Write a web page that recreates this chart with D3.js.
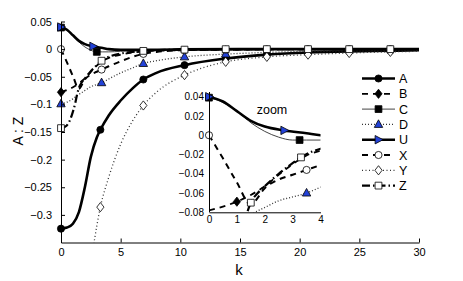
<!DOCTYPE html>
<html>
<head>
<meta charset="utf-8">
<script src="https://cdn.jsdelivr.net/npm/d3@7"></script>
<style>
  body { margin: 0; background: #fff; }
  text { font-family: "Liberation Sans", Arial, sans-serif; fill: #000; }
</style>
</head>
<body>
<script>
// values, k = step
var kA = [0, 0.5, 1, 1.5, 2, 2.5, 3, 3.3, 4, 5, 6, 6.9, 8, 10.35, 13.8, 17.25, 20.7, 24.15, 27.6, 30],
    valA = [-0.325, -0.323, -0.316, -0.295, -0.25, -0.195, -0.16, -0.146, -0.12, -0.093, -0.071, -0.055, -0.043, -0.029, -0.017, -0.01, -0.006, -0.004, -0.003, -0.002];
var kB = [0, 0.5, 1, 1.5, 2, 2.5, 3, 3.5, 4, 5, 6, 7, 8, 10, 14, 20, 30],
    valB = [-0.078, -0.074, -0.069, -0.062, -0.053, -0.041, -0.03, -0.021, -0.016, -0.01, -0.006, -0.004, -0.003, -0.002, -0.001, 0, 0];
var kC = [0, 0.5, 1, 1.5, 2, 2.5, 3, 3.5, 4, 5, 7, 10, 15, 30],
    valC = [0.039, 0.034, 0.025, 0.013, 0.004, -0.002, -0.005, -0.005, -0.005, -0.004, -0.003, -0.002, -0.001, 0];
var kD = [0, 0.5, 1, 1.5, 2, 2.5, 3, 3.5, 4, 5, 6, 6.9, 8, 10.35, 13.8, 17.25, 20.7, 25, 30],
    valD = [-0.099, -0.096, -0.09, -0.082, -0.075, -0.068, -0.064, -0.06, -0.054, -0.043, -0.034, -0.026, -0.021, -0.014, -0.009, -0.006, -0.004, -0.003, -0.002];
var kU = [0, 0.5, 1, 1.5, 2, 2.7, 3.5, 4, 5, 6, 8, 10, 15, 20, 30],
    valU = [0.04, 0.035, 0.025, 0.015, 0.009, 0.005, 0.002, 0, -0.001, -0.001, -0.001, -0.0005, 0, 0, 0];
var kX = [0, 0.5, 1, 1.5, 1.6, 2, 2.5, 3, 3.5, 4, 5, 6, 7, 8, 10, 14, 20, 30],
    valX = [0, -0.024, -0.049, -0.072, -0.07, -0.055, -0.046, -0.041, -0.036, -0.031, -0.022, -0.014, -0.008, -0.005, -0.002, -0.001, 0, 0];
var kY = [2.5, 2.7, 3, 3.3, 4, 5, 6, 6.9, 8, 10.35, 12, 13.8, 17.25, 20.7, 24.15, 27.6, 30],
    valY = [-0.39, -0.36, -0.32, -0.286, -0.232, -0.172, -0.13, -0.102, -0.078, -0.047, -0.033, -0.023, -0.014, -0.01, -0.007, -0.005, -0.004];
var kZ = [0, 0.3, 0.6, 0.9, 1.2, 1.35, 1.5, 1.75, 2, 2.5, 3, 3.4, 4, 5, 6, 7, 8, 10, 14, 20, 30],
    valZ = [-0.143, -0.141, -0.135, -0.12, -0.097, -0.082, -0.07, -0.06, -0.053, -0.04, -0.029, -0.021, -0.014, -0.008, -0.005, -0.003, -0.002, -0.001, 0, 0, 0];

// where markers sit (k), main plot and zoom plot
var markA = [0, 3.3, 6.9, 10.35, 13.8, 17.25, 20.7, 24.15, 27.6],
    markB = [0],
    markC = [0, 3.0],
    markD = [0, 3.4, 6.9, 10.35, 13.8],
    markU = [0, 2.7],
    markX = [0, 3.4, 6.9, 10.35, 13.8, 17.25, 20.7, 24.15, 27.6],
    markY = [3.3, 6.9, 10.35, 13.8, 17.25, 20.7, 24.15, 27.6],
    markZ = [0, 3.4, 6.9, 10.35, 13.8, 17.25, 20.7, 24.15, 27.6];
var zoomB = [1], zoomC = [0, 3.25], zoomD = [3.5], zoomU = [0, 2.7], zoomX = [0, 3.5], zoomZ = [1.5, 3.3];

var names = ["A", "B", "C", "D", "U", "X", "Y", "Z"];
var xTicks = [0, 5, 10, 15, 20, 25, 30],
    yTicks = [0.05, 0, -0.05, -0.1, -0.15, -0.2, -0.25, -0.3],
    zxTicks = [0, 1, 2, 3, 4],
    zyTicks = [0.04, 0.02, 0, -0.02, -0.04, -0.06, -0.08];

var blue = "#2342d8";

var series = [
    {name: "A", k: kA, v: valA, main: markA, zoom: [], shape: "circle", fill: "#000", w: 2.6, dash: null, col: "#000"},
    {name: "B", k: kB, v: valB, main: markB, zoom: zoomB, shape: "diamond", fill: "#000", w: 1.8, dash: "6,5", col: "#000"},
    {name: "C", k: kC, v: valC, main: markC, zoom: zoomC, shape: "square", fill: "#000", w: 1, dash: null, col: "#444"},
    {name: "D", k: kD, v: valD, main: markD, zoom: zoomD, shape: "tri", fill: blue, w: 1.3, dash: "1,2", col: "#333"},
    {name: "U", k: kU, v: valU, main: markU, zoom: zoomU, shape: "right", fill: blue, w: 2.6, dash: null, col: "#000"},
    {name: "X", k: kX, v: valX, main: markX, zoom: zoomX, shape: "circle", fill: "#fff", w: 2, dash: "6,5", col: "#000"},
    {name: "Y", k: kY, v: valY, main: markY, zoom: [], shape: "diamond", fill: "#fff", w: 1.3, dash: "1,2.5", col: "#333"},
    {name: "Z", k: kZ, v: valZ, main: markZ, zoom: zoomZ, shape: "square", fill: "#fff", w: 2.2, dash: "8,3,1.5,3", col: "#000"}
];

var width = 463, height = 281;
var svg = d3.select("body").append("svg")
    .attr("width", width)
    .attr("height", height);

function valueAt(s, k) {
    var i = d3.bisectLeft(s.k, k);
    if (s.k[i] === k) return s.v[i];
    var t = (k - s.k[i - 1]) / (s.k[i] - s.k[i - 1]);
    return s.v[i - 1] + t * (s.v[i] - s.v[i - 1]);
}

function markerPath(shape) {
    if (shape == "circle") return d3.symbol(d3.symbolCircle, 40)();
    if (shape == "square") return "M-3.4,-3.4h6.8v6.8h-6.8z";
    if (shape == "diamond") return "M0,-4.6L3.6,0L0,4.6L-3.6,0Z";
    if (shape == "tri") return "M0,-4.6L4.2,3L-4.2,3Z";
    return "M-3.4,-4.2L4.6,0L-3.4,4.2Z";
}

var fmt = d3.format(".2~f");

// main plot
var x = d3.scaleLinear().domain([0, 30]).range([61, 419]);
var y = d3.scaleLinear().domain([-0.35, 0.05]).range([242.5, 21.5]);

// zoom plot
var zx = d3.scaleLinear().domain([0, 4]).range([209, 320.5]);
var zy = d3.scaleLinear().domain([-0.08, 0.04]).range([212.3, 96.7]);

var defs = svg.append("defs");
defs.append("clipPath").attr("id", "clipMain").append("rect")
    .attr("x", 61).attr("y", 10).attr("width", 358).attr("height", 232.5);
defs.append("clipPath").attr("id", "clipZoom").append("rect")
    .attr("x", 209).attr("y", 92).attr("width", 111.5).attr("height", 120.3);

function drawPlot(sx, sy, clipId, key) {
    var line = d3.line()
        .x(function(d) { return sx(d[0]); })
        .y(function(d) { return sy(d[1]); })
        .curve(d3.curveMonotoneX);

    var lines = svg.append("g").attr("clip-path", "url(#" + clipId + ")");
    series.forEach(function(s) {
        lines.append("path")
            .attr("d", line(d3.zip(s.k, s.v)))
            .attr("fill", "none")
            .attr("stroke", s.col)
            .attr("stroke-width", s.w)
            .attr("stroke-dasharray", s.dash);
    });

    var marks = svg.append("g");
    series.forEach(function(s) {
        s[key].forEach(function(k) {
            marks.append("path")
                .attr("d", markerPath(s.shape))
                .attr("transform", "translate(" + sx(k) + "," + sy(valueAt(s, k)) + ")")
                .attr("fill", s.fill)
                .attr("stroke", "#000")
                .attr("stroke-width", 0.8);
        });
    });
}

drawPlot(x, y, "clipMain", "main");
drawPlot(zx, zy, "clipZoom", "zoom");

// main axes
var xAxis = svg.append("g")
    .attr("transform", "translate(0,242.5)")
    .call(d3.axisBottom(x).tickValues(xTicks).tickSizeInner(-4).tickSizeOuter(0).tickPadding(6));
var yAxis = svg.append("g")
    .attr("transform", "translate(61,0)")
    .call(d3.axisLeft(y).tickValues(yTicks).tickFormat(fmt).tickSizeInner(-4).tickSizeOuter(0).tickPadding(9));
[xAxis, yAxis].forEach(function(a) {
    a.selectAll("text").style("font-size", "11px").style("font-family", "'Liberation Sans', Arial, sans-serif");
    a.select(".domain").attr("stroke-width", 1);
});

// zoom axes
var zxAxis = svg.append("g")
    .attr("transform", "translate(0,212.3)")
    .call(d3.axisBottom(zx).tickValues(zxTicks).tickFormat(d3.format("d")).tickSize(0).tickPadding(4));
var zyAxis = svg.append("g")
    .attr("transform", "translate(209,0)")
    .call(d3.axisLeft(zy).tickValues(zyTicks).tickFormat(fmt).tickSize(0).tickPadding(5));
[zxAxis, zyAxis].forEach(function(a) {
    a.selectAll("text").style("font-size", "10px").style("font-family", "'Liberation Sans', Arial, sans-serif");
    a.select(".domain").attr("stroke-width", 1);
});
zyAxis.select(".domain").attr("d", "M0.5,92V212.3");

svg.append("text")
    .attr("x", 272).attr("y", 114)
    .attr("text-anchor", "middle")
    .style("font-size", "12.5px")
    .text("zoom");

// axis titles
svg.append("text")
    .attr("transform", "translate(23,131) rotate(-90)")
    .attr("text-anchor", "middle")
    .style("font-size", "14px")
    .text("A : Z");
svg.append("text")
    .attr("x", 239).attr("y", 275)
    .attr("text-anchor", "middle")
    .style("font-size", "15px")
    .text("k");

// legend
var legend = svg.append("g");
series.forEach(function(s, i) {
    var ly = 78.5 + i * 15.3;
    legend.append("line")
        .attr("x1", 362).attr("x2", 395)
        .attr("y1", ly).attr("y2", ly)
        .attr("stroke", s.col)
        .attr("stroke-width", s.w)
        .attr("stroke-dasharray", s.dash);
    legend.append("path")
        .attr("d", markerPath(s.shape))
        .attr("transform", "translate(378.5," + ly + ")")
        .attr("fill", s.fill)
        .attr("stroke", "#000")
        .attr("stroke-width", 0.8);
    legend.append("text")
        .attr("x", 399).attr("y", ly + 4.5)
        .style("font-size", "12.5px")
        .text(names[i]);
});
</script>
</body>
</html>
